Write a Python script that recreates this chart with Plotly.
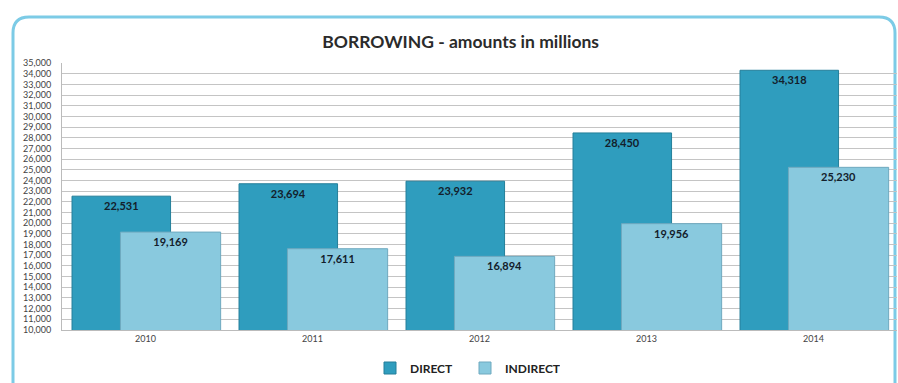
import plotly.graph_objects as go

# Borrowing amounts (in millions)
years = ["2010", "2011", "2012", "2013", "2014"]
direct = [22531, 23694, 23932, 28450, 34318]
indirect = [19169, 17611, 16894, 19956, 25230]
y_ticks = list(range(10000, 35001, 1000))

W, H = 898, 383
ml, mr, mt, mb = 62, 1, 63, 53
pw = W - ml - mr
ph = H - mt - mb


def px_x(p):
    return (p - ml) / pw


def px_y(p):
    return (H - mb - p) / ph


label_font = dict(family="Lato, Open Sans, sans-serif", size=11,
                  color="#13202b", weight="bold")

fig = go.Figure()

fig.add_trace(go.Bar(
    name="DIRECT", x=years, y=direct,
    offset=-0.44, width=0.59,
    marker=dict(color="#2F9DBE", line=dict(color="#247F9A", width=1)),
    text=[f"{v:,}" for v in direct],
    textposition="inside", insidetextanchor="end",
    textfont=label_font,
))
fig.add_trace(go.Bar(
    name="INDIRECT", x=years, y=indirect,
    offset=-0.15, width=0.60,
    marker=dict(color="#89C9DE", line=dict(color="#6FA9BF", width=1)),
    text=[f"{v:,}" for v in indirect],
    textposition="inside", insidetextanchor="end",
    textfont=label_font,
))

# Rounded frame around the chart
x0, x1 = px_x(13), px_x(895)
y0, y1 = px_y(395), px_y(17)
rx, ry = 16 / pw, 16 / ph
frame = (f"M {x0},{y0} L {x0},{y1 - ry} Q {x0},{y1} {x0 + rx},{y1} "
         f"L {x1 - rx},{y1} Q {x1},{y1} {x1},{y1 - ry} L {x1},{y0}")

fig.update_layout(
    width=W, height=H,
    margin=dict(l=ml, r=mr, t=mt, b=mb),
    barmode="overlay",
    uniformtext=dict(mode="show", minsize=11),
    plot_bgcolor="white", paper_bgcolor="white",
    font=dict(family="Lato, Open Sans, sans-serif", color="#333333"),
    title=dict(text="<b>BORROWING - amounts in millions</b>",
               x=0.513, xanchor="center", y=1 - 42 / H, yanchor="middle",
               font=dict(size=17.5, color="#2b2b2b")),
    showlegend=True,
    legend=dict(orientation="h", x=px_x(465), xanchor="center", y=px_y(368), yanchor="middle",
                font=dict(size=12, color="#222", weight="bold"), traceorder="normal",
                itemwidth=30, entrywidth=50),
    shapes=[dict(type="path", xref="paper", yref="paper", path=frame,
                 line=dict(color="#7CCBE6", width=3), layer="below")],
    xaxis=dict(showgrid=False, showline=True, linecolor="#BBBBBB",
               tickfont=dict(size=9, color="#444"), ticks=""),
    yaxis=dict(range=[10000, 35000], tickvals=y_ticks,
               ticktext=[f"{v:,}" for v in y_ticks],
               showgrid=True, gridcolor="#C4C4C4", gridwidth=1,
               showline=True, linecolor="#BBBBBB", zeroline=False,
               tickfont=dict(size=9, color="#444"), ticks="", ticklabelstandoff=8),
)
fig.write_html("out.html")
